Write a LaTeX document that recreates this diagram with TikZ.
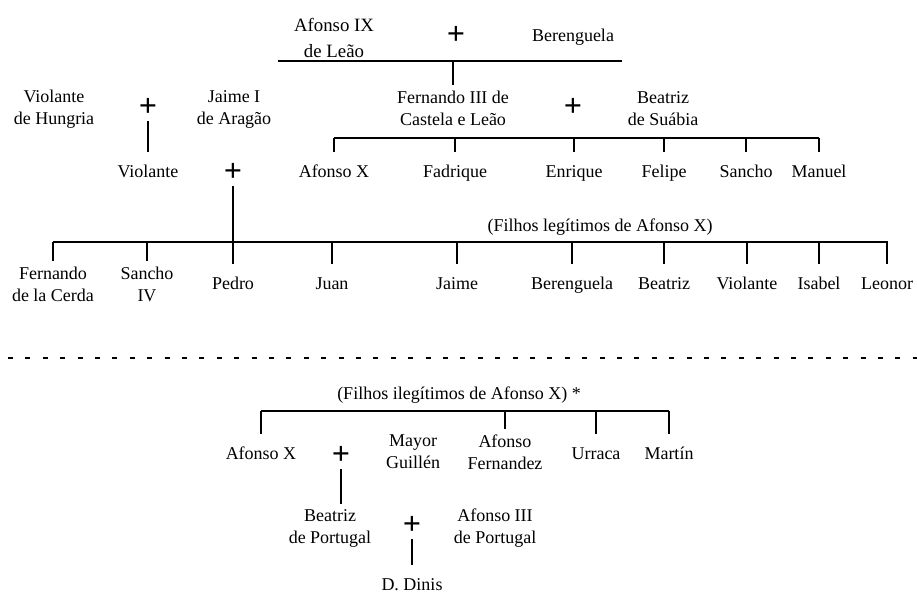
\documentclass[tikz,border=0pt]{standalone}
\usepackage{xcolor}
\usepackage{amsmath,amssymb}
\usepackage{fontspec}
\setmainfont{Liberation Serif}

\tikzset{
  who/.style={font=\fontsize{9}{11}\selectfont, align=center, inner xsep=1pt},
  nm/.style={who, text height=6.2pt, text depth=1.8pt, inner ysep=6.3pt},
  nm2/.style={who, inner ysep=2.5pt},
  marr/.style={font=\fontsize{16}{16}\selectfont\bfseries, inner xsep=0pt, inner ysep=2.5pt},
  bar/.style={line width=0.9pt},
  sep/.style={line width=1pt, dash pattern=on 2.5pt off 6.2pt},
}

\begin{document}
\begin{tikzpicture}[x=1pt, y=-1pt, scale=0.50]
      \useasboundingbox (0,0) rectangle (917,593);
      % Afonso IX + Berenguela
      \node[nm2, font=\fontsize{9.4}{11}\selectfont] (afonsoIX) at (334,38) {Afonso IX\\[2pt]de Leão};
      \node[marr] (plusT) at (456,35) {+};
      \node[nm] (berenguelaM) at (573,37) {Berenguela};
      \coordinate (topL) at (278,61);
      \coordinate (topR) at (622,61);
      \node[nm2] (fernandoIII) at (453,108) {Fernando III de\\Castela e Leão};
      \node[marr] (plusF) at (573,107) {+};
      \node[nm2] (beatrizS) at (663,109) {Beatriz\\de Suábia};
      \draw[bar] (topL) -- (topR);
      \draw[bar] (topL -| fernandoIII) -- (fernandoIII.north);

      % Violante de Hungria + Jaime I
      \node[nm2] (violanteH) at (54,109) {Violante\\de Hungria};
      \node[marr] (plusH) at (148,107) {+};
      \node[nm2] (jaimeI) at (234,109) {Jaime I\\de Aragão};
      \node[nm] (violante) at (148,173.5) {Violante};
      \node[marr] (plusJ) at (233,172) {+};
      \draw[bar] (plusH) -- (violante);

      % filhos de Fernando III
      \coordinate (fsL) at (334,138);
      \coordinate (fsR) at (819,138);
      \node[nm] (afonsoX) at (334,173.5) {Afonso X};
      \node[nm] (fadrique) at (455,173.5) {Fadrique};
      \node[nm] (enrique) at (574,173.5) {Enrique};
      \node[nm] (felipe) at (664,173.5) {Felipe};
      \node[nm] (sanchoF) at (746,173.5) {Sancho};
      \node[nm] (manuel) at (819,173.5) {Manuel};
      \draw[bar] (fsL) -- (fsR);
      \draw[bar] (fsL -| afonsoX) -- (afonsoX.north);
      \draw[bar] (fsL -| fadrique) -- (fadrique.north);
      \draw[bar] (fsL -| enrique) -- (enrique.north);
      \draw[bar] (fsL -| felipe) -- (felipe.north);
      \draw[bar] (fsL -| sanchoF) -- (sanchoF.north);
      \draw[bar] (fsL -| manuel) -- (manuel.north);

      % filhos legitimos
      \node[nm] (legit) at (600,227) {(Filhos legítimos de Afonso X)};
      \coordinate (legL) at (53,242);
      \coordinate (legR) at (888,242);
      \node[nm2] (fernandoC) at (53,284) {Fernando\\de la Cerda};
      \node[nm2] (sanchoIV) at (147,284) {Sancho\\IV};
      \node[nm] (pedro) at (233,285) {Pedro};
      \node[nm] (juan) at (332,285) {Juan};
      \node[nm] (jaime) at (457,285) {Jaime};
      \node[nm] (berenguela) at (572,285) {Berenguela};
      \node[nm] (beatriz) at (664,285) {Beatriz};
      \node[nm] (violanteL) at (747,285) {Violante};
      \node[nm] (isabel) at (819,285) {Isabel};
      \node[nm] (leonor) at (887,285) {Leonor};
      \draw[bar] (legL) -- (legR);
      \draw[bar] (plusJ) -- (pedro);
      \draw[bar] (legL -| fernandoC) -- (fernandoC.north);
      \draw[bar] (legL -| sanchoIV) -- (sanchoIV.north);
      \draw[bar] (legL -| juan) -- (juan.north);
      \draw[bar] (legL -| jaime) -- (jaime.north);
      \draw[bar] (legL -| berenguela) -- (berenguela.north);
      \draw[bar] (legL -| beatriz) -- (beatriz.north);
      \draw[bar] (legL -| violanteL) -- (violanteL.north);
      \draw[bar] (legL -| isabel) -- (isabel.north);
      \draw[bar] (legL -| leonor) -- (leonor.north);

      \coordinate (sepL) at (8,358);
      \coordinate (sepR) at (917,358);
      \draw[sep] (sepL) -- (sepR);

      % filhos ilegitimos
      \node[nm] (ilegit) at (459,395.5) {(Filhos ilegítimos de Afonso X) *};
      \coordinate (ilL) at (261,411);
      \coordinate (ilR) at (669,411);
      \node[nm] (afonsoXb) at (261,455.5) {Afonso X};
      \node[marr] (plusB) at (341,455) {+};
      \node[nm2] (mayor) at (413,452) {Mayor\\Guillén};
      \node[nm2] (afonsoF) at (505,452) {Afonso\\Fernandez};
      \node[nm] (urraca) at (596,455.5) {Urraca};
      \node[nm] (martin) at (669,455.5) {Martín};
      \draw[bar] (ilL) -- (ilR);
      \draw[bar] (ilL -| afonsoXb) -- (afonsoXb.north);
      \draw[bar] (ilL -| afonsoF) -- (afonsoF.north);
      \draw[bar] (ilL -| urraca) -- (urraca.north);
      \draw[bar] (ilL -| martin) -- (martin.north);

      \node[nm2] (beatrizP) at (330,528) {Beatriz\\de Portugal};
      \node[marr] (plusP) at (412,525) {+};
      \node[nm2] (afonsoIII) at (495,528) {Afonso III\\de Portugal};
      \node[nm] (dinis) at (412,586.5) {D. Dinis};
      \draw[bar] (plusB.south) -- (plusB.south |- beatrizP.north);
      \draw[bar] (plusP) -- (dinis);
    \end{tikzpicture}
\end{document}
